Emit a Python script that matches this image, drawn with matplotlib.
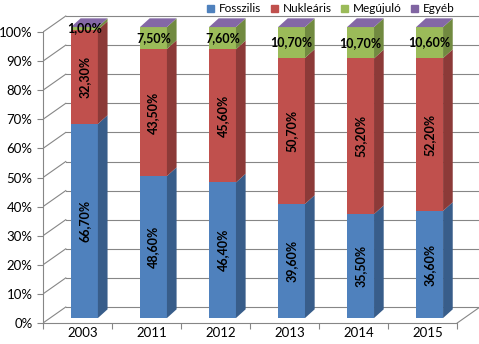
import matplotlib.pyplot as plt
from matplotlib.patches import Polygon, Patch
import numpy as np

plt.rcParams['font.family'] = ['Lato', 'DejaVu Sans']

years = ['2003', '2011', '2012', '2013', '2014', '2015']
fosszilis = [66.7, 48.6, 46.4, 39.6, 35.5, 36.6]
nuklearis = [32.3, 43.5, 45.6, 50.7, 53.2, 52.2]
megujulo = [1.0, 7.5, 7.6, 10.7, 10.7, 10.6]
egyeb = [0.0, 0.0, 0.0, 0.0, 0.0, 0.0]

series = [
    ('Fosszilis', fosszilis, '#4F81BD', '#385D8A', 90),
    ('Nukleáris', nuklearis, '#C0504D', '#8C3A38', 90),
    ('Megújuló', megujulo, '#9BBB59', '#718A40', 0),
    ('Egyéb', egyeb, '#8064A2', '#5E4A78', None),
]
top_color = '#8468A6'

# fake 3d geometry (data units)
WALL_DX, WALL_DY = 0.33, 5.5
FX, FY = 0.10, 1.7
BDX, BDY = 0.14, 3.0
BW = 0.39
grid_c = '#868686'

fig = plt.figure(figsize=(4.79, 3.44), dpi=100)
ax = fig.add_axes([43 / 479, 21 / 344, 437 / 479, 323 / 344])
n = len(years)
x = np.arange(n)
ax.set_xlim(-0.5, n - 0.5 + WALL_DX)
ax.set_ylim(0, 111)

# walls and floor
for v in range(0, 101, 10):
    ax.plot([-0.5 + WALL_DX, n - 0.5 + WALL_DX], [v + WALL_DY] * 2, color=grid_c, lw=0.8, zorder=1)
    ax.plot([-0.5, -0.5 + WALL_DX], [v, v + WALL_DY], color=grid_c, lw=0.8, zorder=1)
ax.plot([n - 0.5, n - 0.5 + WALL_DX], [0, WALL_DY], color=grid_c, lw=0.8, zorder=1)

totals = np.sum([s[1] for s in series], axis=0)
bottom = np.zeros(n)
for name, vals, col, side, rot in series:
    h = np.array(vals) / totals * 100
    ax.bar(x + FX, h, width=BW, bottom=bottom + FY, color=col, zorder=3)
    for i in range(n):
        if h[i] <= 0:
            continue
        xr = x[i] + FX + BW / 2
        b, t = bottom[i] + FY, bottom[i] + h[i] + FY
        ax.add_patch(Polygon([(xr, b), (xr + BDX, b + BDY), (xr + BDX, t + BDY), (xr, t)],
                             closed=True, color=side, lw=0, zorder=3))
        if rot is not None:
            ax.text(x[i] + FX, (b + t) / 2, f'{vals[i]:.2f}%'.replace('.', ','),
                    rotation=rot, ha='center', va='center', fontsize=9,
                    fontweight='bold', color='black', zorder=5)
    bottom += h

for i in range(n):
    xl, xr = x[i] + FX - BW / 2, x[i] + FX + BW / 2
    T = bottom[i] + FY
    ax.add_patch(Polygon([(xl, T), (xr, T), (xr + BDX, T + BDY), (xl + BDX, T + BDY)],
                         closed=True, color=top_color, lw=0, zorder=4))

# axes
for s in ['top', 'right']:
    ax.spines[s].set_visible(False)
ax.spines['left'].set_bounds(0, 100)
ax.spines['bottom'].set_bounds(-0.5, n - 0.5)
for s in ['left', 'bottom']:
    ax.spines[s].set_color(grid_c)
    ax.spines[s].set_linewidth(0.8)
ax.set_yticks(range(0, 101, 10))
ax.set_yticklabels([f'{v}%' for v in range(0, 101, 10)], fontsize=9.5)
ax.set_xticks(np.arange(-0.5, n, 1.0))
ax.set_xticklabels([])
ax.set_xticks(x + 0.08, minor=True)
ax.set_xticklabels(years, minor=True, fontsize=9.5)
ax.tick_params(axis='both', which='major', color=grid_c, length=4, width=0.8)
ax.tick_params(axis='x', which='minor', length=0, pad=3)

handles = [Patch(color=s[2]) for s in series]
fig.legend(handles, [s[0] for s in series], loc='center', bbox_to_anchor=(331 / 479, 1 - 9 / 344),
           ncol=4, frameon=False, fontsize=8.5, handlelength=0.6, handleheight=0.6,
           handletextpad=0.4, columnspacing=0.8)

fig.savefig('out.png', dpi=100)
